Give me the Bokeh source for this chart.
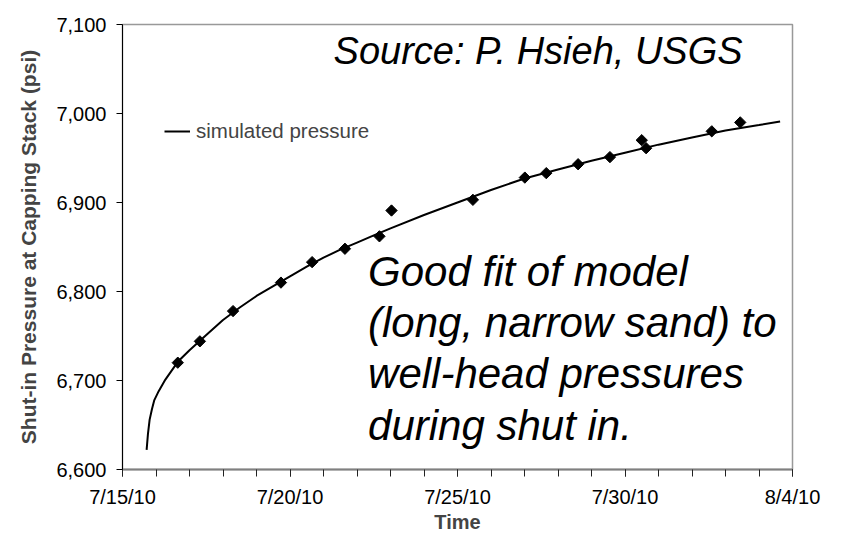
import pandas as pd
from bokeh.plotting import figure
from bokeh.models import (FixedTicker, NumeralTickFormatter, CustomJSTickFormatter,
                          Label, Range1d, Legend, LegendItem, ColumnDataSource)
from bokeh.embed import file_html
from bokeh.resources import INLINE

# ---------------- data ----------------
start_date = "2010-07-15"
end_date = "2010-08-04"

# measured well-head pressures (days after 7/15/10, psi)
obs_days = [1.65, 2.31, 3.30, 4.73, 5.66, 6.64, 7.67, 8.03, 10.46, 12.01,
            12.65, 13.60, 14.55, 15.50, 15.63, 17.59, 18.44]
obs_psi = [6720, 6744, 6778, 6810, 6833, 6848, 6862, 6891, 6903, 6928,
           6933, 6943, 6951, 6970, 6961, 6980, 6990]

# simulated pressure curve (days after 7/15/10, psi)
sim_days = [0.72, 0.76, 0.81, 0.88, 0.95, 1.08, 1.28, 1.65, 2.0, 2.5, 3.0, 3.5,
            4.0, 4.5, 5.0, 5.5, 6.0, 6.5, 7.0, 7.5, 8.0, 9.0, 10.0, 11.0, 12.0,
            13.0, 14.0, 15.0, 16.0, 17.0, 18.0, 19.0, 19.63]
sim_psi = [6622, 6640, 6656, 6668, 6678, 6688, 6701, 6721, 6734, 6751, 6768, 6782,
           6795, 6806, 6817, 6828, 6838, 6847, 6855, 6863, 6871, 6886, 6900, 6914, 6927,
           6937, 6947, 6956, 6965, 6973, 6981, 6987, 6991]

x_tick_dates = ["2010-07-15", "2010-07-20", "2010-07-25", "2010-07-30", "2010-08-04"]
y_ticks = [6600, 6700, 6800, 6900, 7000, 7100]

source_text = "Source: P. Hsieh, USGS"
note_lines = ["Good fit of model", "(long, narrow sand) to",
              "well-head pressures", "during shut in."]

FONT = "Liberation Sans"

t0 = pd.Timestamp(start_date)
obs = ColumnDataSource(dict(t=t0 + pd.to_timedelta(obs_days, unit="D"), p=obs_psi))
sim = ColumnDataSource(dict(t=t0 + pd.to_timedelta(sim_days, unit="D"), p=sim_psi))

def ms(ts):
    return pd.Timestamp(ts).value // 10**6

p = figure(width=841, height=535, x_axis_type="datetime",
           x_range=Range1d(pd.Timestamp(start_date), pd.Timestamp(end_date)),
           y_range=Range1d(6600, 7100),
           output_backend="svg", toolbar_location=None,
           min_border_left=122, min_border_right=49,
           min_border_top=24, min_border_bottom=65)

p.xgrid.grid_line_color = None
p.ygrid.grid_line_color = None
p.outline_line_color = "#999999"
p.outline_line_width = 1.5
p.background_fill_color = "white"
p.border_fill_color = "white"

# x axis
xa = p.xaxis[0]
xa.ticker = FixedTicker(ticks=[ms(d) for d in x_tick_dates],
                        minor_ticks=[ms(d) for d in pd.date_range(start_date, end_date, freq="D")])
xa.formatter = CustomJSTickFormatter(code="""
const d = new Date(tick);
return (d.getUTCMonth()+1) + '/' + d.getUTCDate() + '/' + String(d.getUTCFullYear()).slice(2);
""")
xa.axis_label = "Time"
xa.axis_label_text_font = FONT
xa.axis_label_text_font_style = "bold"
xa.axis_label_text_font_size = "20px"
xa.axis_label_standoff = 0
xa.major_label_text_font = FONT
xa.major_label_text_font_size = "20px"
xa.major_label_text_color = "black"
xa.major_label_standoff = 9
xa.axis_line_color = "#808080"
xa.axis_line_width = 2
xa.major_tick_in = 0
xa.major_tick_out = 7
xa.minor_tick_in = 0
xa.minor_tick_out = 7
xa.major_tick_line_color = "#222222"
xa.minor_tick_line_color = "#222222"

# y axis
ya = p.yaxis[0]
ya.ticker = FixedTicker(ticks=y_ticks)
ya.formatter = NumeralTickFormatter(format="0,0")
ya.axis_label = "Shut-in Pressure at Capping Stack (psi)"
ya.axis_label_text_font = FONT
ya.axis_label_text_font_style = "bold"
ya.axis_label_text_font_size = "21px"
ya.axis_label_standoff = 13
ya.major_label_text_font = FONT
ya.major_label_text_font_size = "20px"
ya.major_label_text_color = "black"
ya.major_label_standoff = 10
ya.axis_line_color = "black"
ya.major_tick_in = 0
ya.major_tick_out = 6
ya.minor_tick_line_color = None
ya.major_tick_line_color = "black"

line = p.line("t", "p", source=sim, line_color="black", line_width=2)
p.scatter("t", "p", source=obs, marker="square", angle=0.785398, size=8,
          fill_color="black", line_color="black")

legend = Legend(items=[LegendItem(label="simulated pressure", renderers=[line])],
                location=(42, 326), padding=0, margin=0, spacing=0,
                glyph_width=26, label_standoff=6,
                border_line_alpha=0, background_fill_alpha=0,
                label_text_font=FONT, label_text_font_size="20.5px")
p.add_layout(legend)

p.add_layout(Label(x=t0 + pd.Timedelta(days=6.30), y=7070, text=source_text,
                   text_font=FONT, text_font_style="italic", text_font_size="38px",
                   text_baseline="alphabetic", text_align="left", text_color="black"))

note_y = [6822, 6765, 6708, 6650]
for txt, yy in zip(note_lines, note_y):
    p.add_layout(Label(x=t0 + pd.Timedelta(days=7.33), y=yy, text=txt,
                       text_font=FONT, text_font_style="italic", text_font_size="42px",
                       text_baseline="alphabetic", text_align="left", text_color="black"))

open("out.html", "w").write(file_html(p, INLINE))
